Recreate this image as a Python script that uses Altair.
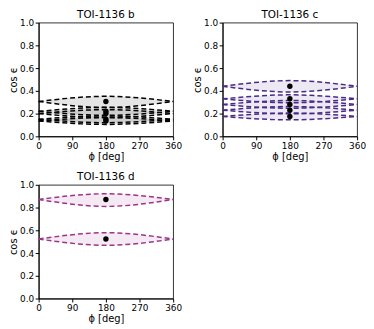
import altair as alt
import pandas as pd

# ---- data ----
phi_pts = [0, 180, 360]

b_edge = [0.307, 0.220, 0.200, 0.150, 0.135]
b_up   = [0.352, 0.255, 0.235, 0.180, 0.165]
b_low  = [0.253, 0.185, 0.165, 0.120, 0.105]

c_edge = [0.440, 0.330, 0.280, 0.230, 0.175]
c_up   = [0.490, 0.365, 0.315, 0.262, 0.205]
c_low  = [0.390, 0.295, 0.247, 0.198, 0.145]

d_edge = [0.871, 0.523]
d_up   = [0.921, 0.579]
d_low  = [0.810, 0.468]

x_ticks = [0, 90, 180, 270, 360]
y_ticks = [0.0, 0.2, 0.4, 0.6, 0.8, 1.0]

panels = [
    ("TOI-1136 b", "#000000", b_edge, b_up, b_low),
    ("TOI-1136 c", "#4a2a86", c_edge, c_up, c_low),
    ("TOI-1136 d", "#9c3587", d_edge, d_up, d_low),
]

W, H = 136, 115


def make_panel(title, color, edges, ups, lows):
    area_rows, line_rows, dot_rows = [], [], []
    for i, (e, u, l) in enumerate(zip(edges, ups, lows)):
        for p, uu, ll in zip(phi_pts, [e, u, e], [e, l, e]):
            area_rows.append({"lens": i, "phi": p, "upper": uu, "lower": ll})
            line_rows.append({"curve": f"{i}u", "phi": p, "v": uu})
            line_rows.append({"curve": f"{i}l", "phi": p, "v": ll})
        dot_rows.append({"phi": 180, "v": e})
    adf = pd.DataFrame(area_rows)
    ldf = pd.DataFrame(line_rows)
    ddf = pd.DataFrame(dot_rows)

    xs = alt.Scale(domain=[0, 360], nice=False, zero=False)
    ys = alt.Scale(domain=[0, 1], nice=False)
    common = dict(grid=False, labelOverlap=False, labelFont="DejaVu Sans",
                  titleFont="DejaVu Sans", labelFontSize=9, titleFontSize=10,
                  titleFontWeight="normal", labelColor="black",
                  titleColor="black", domainColor="black", tickColor="black",
                  tickSize=3.5, labelPadding=1.5, labelFlush=False)
    xax = alt.Axis(values=x_ticks, title="ϕ [deg]", titlePadding=1, **common)
    yax = alt.Axis(values=y_ticks, format=".1f", title="cos ϵ",
                   titlePadding=1, **common)

    area = alt.Chart(adf).mark_area(
        interpolate="natural", color=color, opacity=0.1
    ).encode(
        x=alt.X("phi:Q", scale=xs, axis=xax),
        y=alt.Y("upper:Q", scale=ys, axis=yax),
        y2="lower:Q",
        detail="lens:N",
    )
    lines = alt.Chart(ldf).mark_line(
        interpolate="natural", color=color, strokeDash=[5, 3], strokeWidth=1.5
    ).encode(
        x=alt.X("phi:Q", scale=xs, axis=xax),
        y=alt.Y("v:Q", scale=ys, axis=yax),
        detail="curve:N",
    )
    dots = alt.Chart(ddf).mark_circle(color="black", size=30, opacity=1).encode(
        x=alt.X("phi:Q", scale=xs, axis=xax),
        y=alt.Y("v:Q", scale=ys, axis=yax),
    )
    return alt.layer(area, lines, dots).properties(
        width=W, height=H,
        title=alt.TitleParams(title, fontSize=10.5, fontWeight="normal",
                              offset=-2, font="DejaVu Sans", color="black"),
    )


pb, pc, pd_ = [make_panel(*p) for p in panels]

chart = alt.vconcat(
    alt.hconcat(pb, pc, spacing=10),
    pd_,
    spacing=10,
).properties(padding=0).configure_view(
    stroke="black", strokeWidth=0.8
)

chart.save("out.html", embed_options={"renderer": "svg", "actions": False})
